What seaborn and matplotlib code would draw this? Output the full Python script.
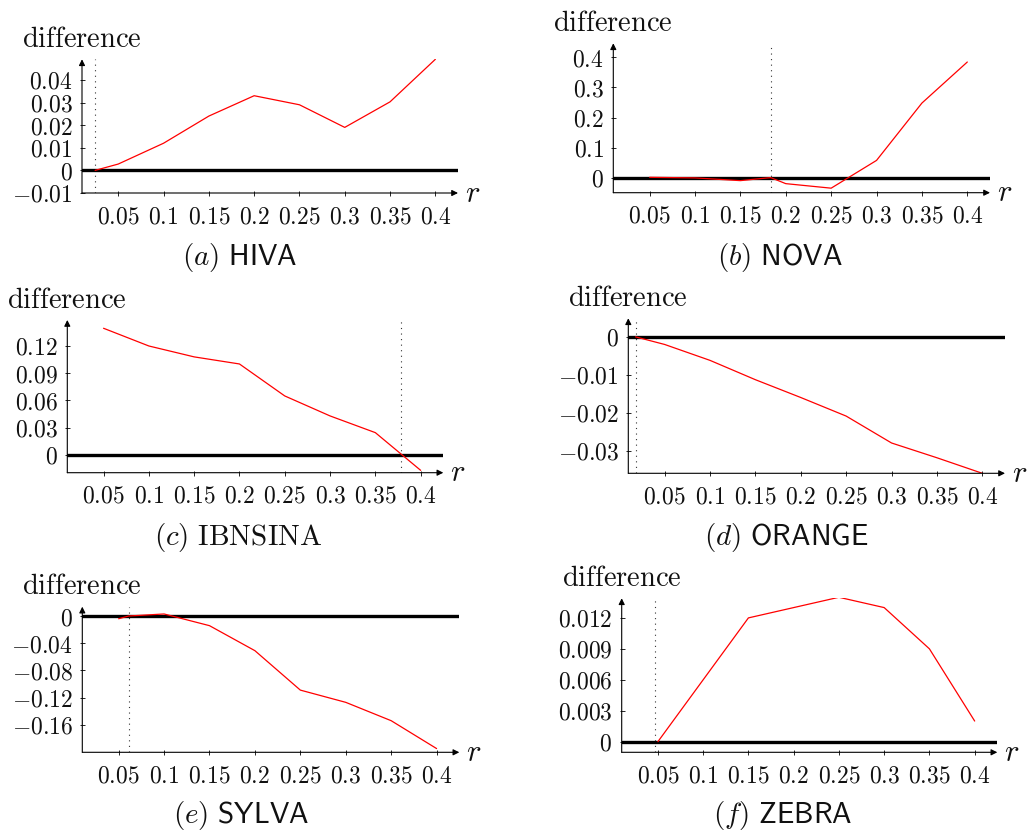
import matplotlib
matplotlib.use("Agg")
import matplotlib.pyplot as plt
import seaborn as sns

# ---------------- data ----------------
r_ticks = [0.05, 0.1, 0.15, 0.2, 0.25, 0.3, 0.35, 0.4]
r_tick_labels = ["0.05", "0.1", "0.15", "0.2", "0.25", "0.3", "0.35", "0.4"]

hiva_r = [0.0245, 0.05, 0.1, 0.15, 0.2, 0.25, 0.3, 0.35, 0.4]
hiva_d = [0.0, 0.0028, 0.012, 0.024, 0.033, 0.029, 0.019, 0.0303, 0.0491]
hiva_cut = 0.0245
hiva_yticks = [-0.01, 0, 0.01, 0.02, 0.03, 0.04]
hiva_ylabels = ["-0.01", "0", "0.01", "0.02", "0.03", "0.04"]

nova_r = [0.05, 0.1, 0.15, 0.1834, 0.2, 0.25, 0.3, 0.35, 0.4]
nova_d = [0.002, 0.0, -0.009, 0.001, -0.019, -0.034, 0.058, 0.248, 0.384]
nova_cut = 0.1834
nova_yticks = [0, 0.1, 0.2, 0.3, 0.4]
nova_ylabels = ["0", "0.1", "0.2", "0.3", "0.4"]

ibn_r = [0.05, 0.1, 0.15, 0.2, 0.25, 0.3, 0.35, 0.4]
ibn_d = [0.1395, 0.12, 0.108, 0.1002, 0.065, 0.043, 0.0246, -0.0169]
ibn_cut = 0.3787
ibn_yticks = [0, 0.03, 0.06, 0.09, 0.12]
ibn_ylabels = ["0", "0.03", "0.06", "0.09", "0.12"]

orange_r = [0.018, 0.05, 0.1, 0.15, 0.2, 0.25, 0.3, 0.35, 0.4]
orange_d = [0.0, -0.002, -0.0062, -0.0113, -0.016, -0.0209, -0.028, -0.0319, -0.036]
orange_cut = 0.018
orange_yticks = [-0.03, -0.02, -0.01, 0]
orange_ylabels = ["-0.03", "-0.02", "-0.01", "0"]

sylva_r = [0.05, 0.061, 0.1, 0.15, 0.2, 0.25, 0.3, 0.35, 0.4]
sylva_d = [-0.004, 0.0, 0.003, -0.0142, -0.051, -0.109, -0.127, -0.154, -0.195]
sylva_cut = 0.061
sylva_yticks = [-0.16, -0.12, -0.08, -0.04, 0]
sylva_ylabels = ["-0.16", "-0.12", "-0.08", "-0.04", "0"]

zebra_r = [0.05, 0.1, 0.15, 0.2, 0.25, 0.3, 0.35, 0.4]
zebra_d = [0.0, 0.006, 0.012, 0.013, 0.014, 0.013, 0.009, 0.002]
zebra_cut = 0.0464
zebra_yticks = [0, 0.003, 0.006, 0.009, 0.012]
zebra_ylabels = ["0", "0.003", "0.006", "0.009", "0.012"]

captions = [r"$(a)\ \mathsf{HIVA}$", r"$(b)\ \mathsf{NOVA}$", r"$(c)\ \mathrm{IBNSINA}$",
            r"$(d)\ \mathsf{ORANGE}$", r"$(e)\ \mathsf{SYLVA}$", r"$(f)\ \mathsf{ZEBRA}$"]

# ---------------- style ----------------
sns.set_theme(style="white")
plt.rcParams["font.family"] = ["DejaVu Serif"]
plt.rcParams["mathtext.fontset"] = "cm"

W, H = 1027, 831
fig = plt.figure(figsize=(W / 100, H / 100), dpi=100)

# pixel boxes: (left, right, top, bottom), ylim
panels = [
    (hiva_r, hiva_d, hiva_cut, hiva_yticks, hiva_ylabels, (82, 458, 59.3, 193), (-0.01, 0.0491)),
    (nova_r, nova_d, nova_cut, nova_yticks, nova_ylabels, (613.3, 990, 43.3, 192.7), (-0.049, 0.446)),
    (ibn_r, ibn_d, ibn_cut, ibn_yticks, ibn_ylabels, (67.3, 443.3, 320, 472.7), (-0.0195, 0.1486)),
    (orange_r, orange_d, orange_cut, orange_yticks, orange_ylabels, (628.3, 1005, 318.3, 473.3), (-0.036, 0.0049)),
    (sylva_r, sylva_d, sylva_cut, sylva_yticks, sylva_ylabels, (82.3, 459.3, 606.7, 752.3), (-0.2005, 0.0137)),
    (zebra_r, zebra_d, zebra_cut, zebra_yticks, zebra_ylabels, (621.7, 997.3, 598.3, 752.3), (-0.00103, 0.0139)),
]
cap_pos = [(240, 258), (780, 258), (238, 537), (786, 537), (241, 816), (783, 816)]

for i, (rx, dy, cut, yt, yl, box, ylim) in enumerate(panels):
    l, rr, t, b = box
    ax = fig.add_axes([l / W, 1 - b / H, (rr - l) / W, (b - t) / H])
    ax.set_facecolor("none")
    ax.set_xlim(0.01, 0.425)
    ax.set_ylim(*ylim)
    for s in ax.spines.values():
        s.set_visible(False)
    ax.axhline(0, color="black", lw=2.4, zorder=2)
    ax.axvline(cut, color="#333333", lw=0.8, ls=(0, (1, 4)), zorder=1)
    sns.lineplot(x=rx, y=dy, ax=ax, color="red", lw=0.9, zorder=3)
    ax.set_xlabel("")
    ax.set_ylabel("")
    # axes with arrows
    ax.annotate("", xy=(1, 0), xytext=(0, 0), xycoords="axes fraction",
                arrowprops=dict(arrowstyle="-|>", lw=0.8, color="black",
                                shrinkA=0, shrinkB=0, mutation_scale=9))
    ax.annotate("", xy=(0, 1), xytext=(0, 0), xycoords="axes fraction",
                arrowprops=dict(arrowstyle="-|>", lw=0.8, color="black",
                                shrinkA=0, shrinkB=0, mutation_scale=9))
    ax.set_xticks(r_ticks, labels=["$" + s + "$" for s in r_tick_labels])
    ax.set_yticks(yt, labels=["$" + s + "$" for s in yl])
    ax.tick_params(axis="both", direction="inout", length=3.6, width=0.6,
                   color="black", labelsize=17, labelcolor="#111111")
    ax.tick_params(axis="x", pad=7, bottom=True)
    ax.tick_params(axis="y", pad=5, left=True)
    ax.annotate(r"$\mathrm{difference}$", xy=(0, 1), xycoords="axes fraction",
                xytext=(0, 9), textcoords="offset points", ha="center",
                va="baseline", fontsize=20.5, color="#111111")
    ax.annotate(r"$r$", xy=(1, 0), xycoords="axes fraction",
                xytext=(5, 0), textcoords="offset points", ha="left",
                va="center", fontsize=22, color="#111111")
    cx, cy = cap_pos[i]
    fig.text(cx / W, 1 - cy / H, captions[i], ha="center", va="center",
             fontsize=21, color="#111111")

fig.savefig("out.png", dpi=100)
